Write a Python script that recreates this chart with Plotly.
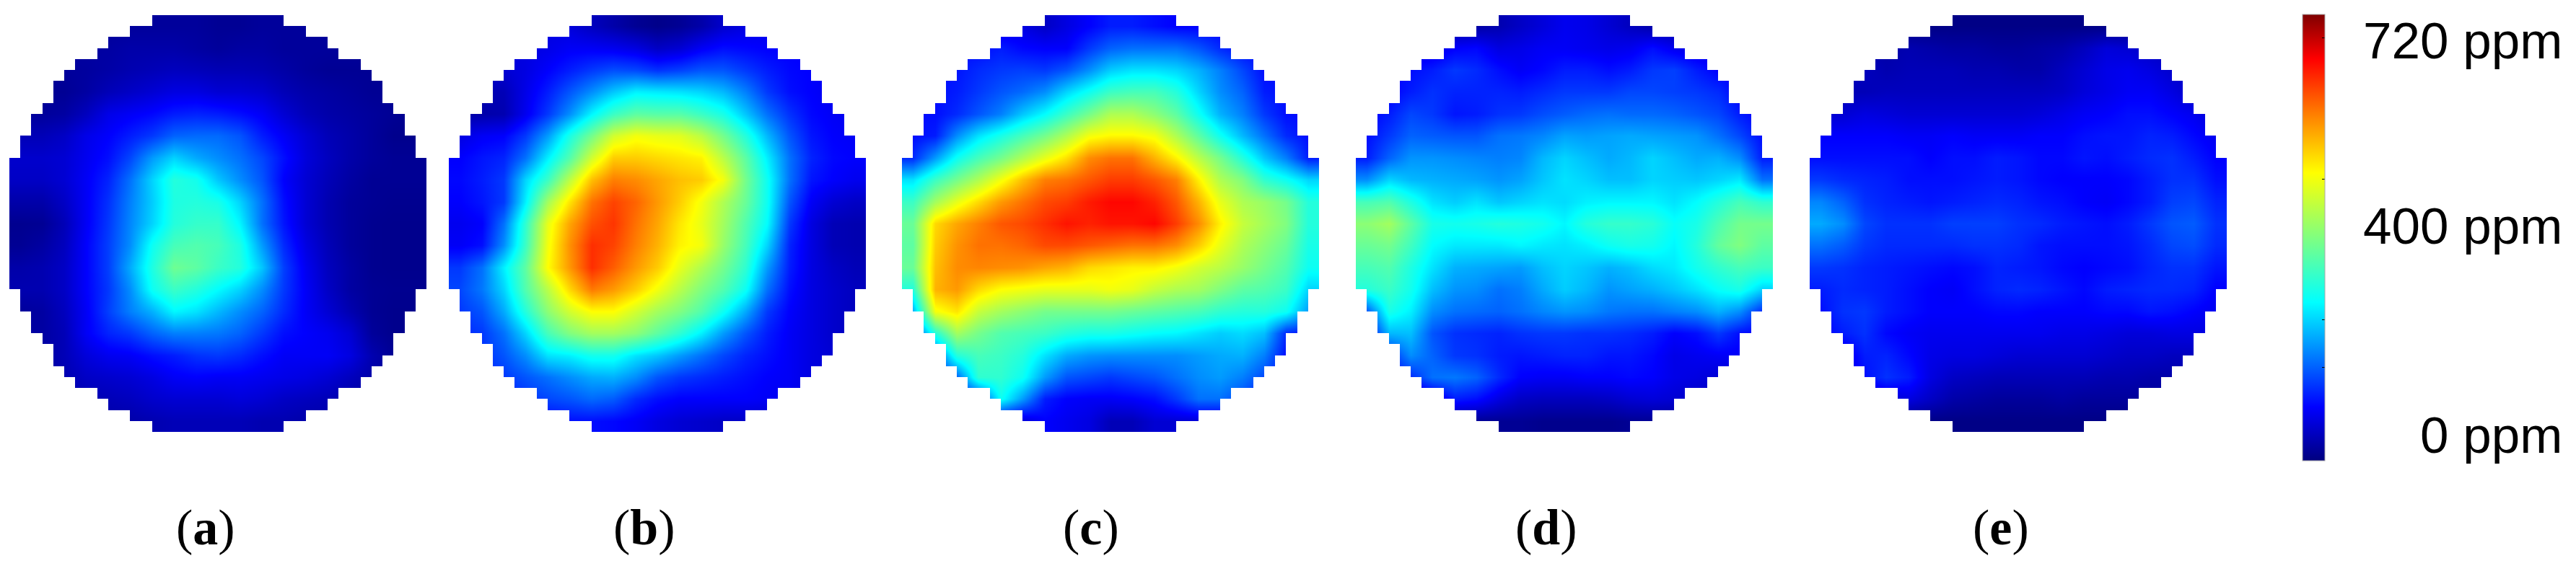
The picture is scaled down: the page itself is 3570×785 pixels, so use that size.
import plotly.graph_objects as go

# Concentration (ppm) at 19 x 19 sampling nodes per panel, top row first
panel_a = [
[20,20,20,20,20,20,20,20,20,15,15,20,20,20,20,20,20,20,20],
[25,25,25,25,25,30,30,30,25,20,25,25,20,20,20,20,20,20,20],
[20,20,20,22,28,35,40,45,42,38,38,35,28,20,15,15,15,15,15],
[15,15,15,25,40,50,60,70,70,60,60,55,40,30,25,20,15,15,15],
[20,20,25,45,75,85,95,110,115,110,100,85,60,40,30,25,20,15,10],
[40,40,50,75,90,110,130,160,165,165,150,110,85,60,40,30,20,10,10],
[55,55,60,80,100,140,200,240,210,190,170,140,100,65,45,30,20,15,15],
[50,50,60,85,115,170,240,300,285,230,190,150,90,60,40,25,15,15,15],
[30,30,50,85,125,180,235,295,300,290,240,170,100,60,35,20,15,12,12],
[12,15,40,85,130,185,240,300,315,315,265,170,105,60,35,20,12,10,10],
[15,25,45,90,135,190,280,330,340,330,295,200,120,70,40,20,12,10,10],
[30,35,50,90,135,210,295,365,350,320,300,230,135,80,45,25,12,10,10],
[35,35,50,90,130,190,280,320,300,270,240,190,130,85,50,25,15,12,12],
[20,25,45,85,135,180,215,265,250,220,190,160,120,85,60,35,15,10,10],
[25,25,40,85,115,130,160,180,180,175,160,130,100,90,80,60,20,10,10],
[25,25,40,65,80,85,100,110,125,130,120,100,85,85,85,70,35,15,15],
[25,25,35,50,55,60,70,85,90,85,85,80,75,70,60,45,30,20,20],
[25,25,30,35,40,45,55,60,60,60,65,60,50,45,40,30,20,20,20],
[30,30,30,30,30,30,35,40,40,40,40,35,35,30,30,25,20,20,20],
]
panel_b = [
[70,70,70,70,70,65,45,30,15,8,15,30,55,70,75,75,70,60,50],
[70,70,70,70,75,85,85,80,70,50,60,85,100,95,90,90,85,80,70],
[60,60,60,70,90,110,130,145,140,125,135,150,150,130,110,95,90,85,80],
[35,35,40,75,110,150,190,230,260,255,250,240,220,180,130,100,90,80,80],
[30,30,35,80,130,190,265,320,350,345,345,320,290,230,170,125,95,85,80],
[70,85,90,130,200,290,370,450,480,470,465,430,370,300,220,150,105,90,85],
[90,105,115,170,260,340,450,530,530,520,510,500,430,350,260,170,115,95,90],
[95,110,130,240,320,430,540,590,580,560,540,530,480,370,280,170,105,90,80],
[90,105,130,260,410,510,600,635,610,570,530,480,420,360,280,150,85,60,50],
[80,90,170,310,470,560,625,645,600,560,510,470,410,340,270,130,70,40,35],
[85,100,190,320,480,575,650,635,590,550,500,480,400,330,240,115,70,40,35],
[130,170,260,350,490,570,650,615,570,530,470,420,370,310,200,110,70,50,40],
[140,175,240,340,430,520,595,570,530,480,430,380,340,280,170,100,70,55,45],
[130,150,210,300,390,450,490,490,450,410,380,340,280,210,130,90,70,55,45],
[120,130,170,240,330,380,410,410,390,350,310,260,200,150,110,85,70,55,45],
[120,125,150,190,250,260,285,285,250,230,200,170,140,115,100,85,70,60,50],
[110,115,130,150,170,190,210,215,190,150,130,120,110,100,90,85,70,60,50],
[90,100,110,125,140,150,165,155,120,100,90,90,90,90,85,80,65,55,45],
[90,90,90,90,95,100,100,95,85,70,60,55,50,50,50,50,45,40,40],
]
panel_c = [
[70,70,70,70,70,70,50,70,90,110,110,100,90,90,90,90,80,70,60],
[100,100,100,100,110,95,90,90,130,160,170,170,170,150,120,100,100,100,100],
[100,100,105,120,130,135,130,150,190,235,250,250,240,215,180,140,100,100,100],
[100,100,110,130,150,165,190,240,280,320,330,330,300,240,190,160,110,100,100],
[100,100,120,150,180,230,270,320,370,420,420,390,350,280,215,180,130,100,100],
[100,110,190,250,290,330,370,420,480,495,495,480,420,350,280,220,170,120,100],
[120,200,280,330,370,420,470,515,580,600,600,550,500,430,370,300,230,180,110],
[250,320,370,420,480,540,590,600,620,640,640,620,590,500,420,380,310,280,240],
[320,410,470,520,570,600,630,640,665,680,680,660,620,550,470,420,400,370,300],
[360,520,560,590,620,630,650,670,660,670,670,680,640,580,500,440,410,380,300],
[350,530,575,600,600,610,630,630,620,610,600,600,580,530,470,420,390,360,290],
[360,540,580,585,580,575,560,550,520,510,500,500,480,450,430,400,370,340,280],
[300,550,570,520,490,480,470,470,470,480,470,440,420,410,380,350,340,320,240],
[210,480,510,440,410,390,370,370,370,370,360,350,340,330,310,300,300,280,200],
[120,300,410,370,340,330,320,300,290,290,280,270,265,250,235,245,225,120,100],
[100,150,300,330,320,300,250,210,195,190,190,190,190,200,210,215,180,100,100],
[100,100,160,310,310,280,200,150,140,130,140,150,170,190,200,180,140,100,100],
[100,100,100,120,280,200,110,90,85,85,90,100,130,170,170,140,100,100,100],
[60,60,60,60,70,60,90,80,70,40,40,60,60,60,60,60,60,60,60],
]
panel_d = [
[20,20,20,20,20,25,35,50,65,80,75,60,45,30,25,20,20,20,20],
[60,60,60,70,90,95,70,75,85,85,80,75,80,100,80,70,60,50,50],
[90,90,100,110,130,120,100,85,95,110,110,100,110,130,135,110,90,90,90],
[90,90,110,125,115,115,115,110,120,130,130,130,140,140,135,130,120,90,90],
[90,110,140,130,105,110,125,130,145,155,165,170,165,165,160,150,140,110,90],
[100,130,160,155,150,150,170,175,185,205,200,205,210,205,200,195,170,140,100],
[110,160,195,195,190,185,180,185,220,240,225,210,220,240,225,210,215,190,110],
[190,240,220,215,210,205,195,205,230,250,240,225,225,240,235,230,240,255,170],
[330,340,295,250,235,250,230,240,250,245,260,265,265,265,250,270,300,330,310],
[390,410,350,290,285,290,300,295,285,265,300,315,315,305,275,290,335,370,370],
[360,370,325,270,255,255,255,265,255,250,260,280,290,285,265,300,355,380,350],
[330,340,295,250,215,210,205,200,225,240,230,215,225,245,255,285,310,330,320],
[300,320,285,225,195,190,170,180,210,235,220,195,205,215,230,250,275,290,240],
[150,290,260,190,170,165,160,170,185,195,190,175,170,170,180,190,215,190,120],
[90,220,225,150,125,120,115,125,130,130,125,125,120,110,90,100,130,100,90],
[90,120,190,160,130,125,110,105,110,115,115,105,105,95,75,80,85,85,85],
[90,90,120,170,175,160,120,90,85,85,90,90,95,90,75,70,60,50,50],
[20,20,30,60,110,100,70,50,45,45,45,50,60,65,60,50,40,30,30],
[10,10,10,10,15,15,15,15,10,10,10,10,15,15,15,15,15,15,15],
]
panel_e = [
[5,5,5,5,5,5,5,5,5,5,5,5,5,5,5,5,5,5,5],
[30,30,30,30,35,30,25,25,20,20,25,30,45,65,60,50,40,30,30],
[45,45,45,35,40,40,40,35,35,30,30,45,60,75,80,70,55,50,50],
[40,40,40,45,45,45,45,45,45,45,45,50,65,75,85,85,70,50,50],
[60,60,70,65,60,60,60,60,60,60,65,75,85,90,100,100,90,80,60],
[90,90,90,90,85,85,90,85,85,85,90,90,100,105,105,115,110,95,80],
[100,100,100,100,100,90,100,100,110,105,95,95,105,100,110,120,125,110,90],
[130,120,115,110,100,100,100,105,110,105,95,90,90,90,95,110,125,125,100],
[185,160,125,115,110,105,110,115,120,115,105,100,90,85,95,110,135,140,115],
[210,190,140,125,125,125,135,135,135,125,120,110,105,100,110,130,150,155,125],
[170,155,130,120,120,120,120,125,125,120,105,100,100,100,105,120,140,145,120],
[130,125,115,110,105,100,95,100,115,110,105,95,90,95,100,115,125,125,105],
[110,120,115,110,100,90,85,100,115,120,115,105,95,110,115,120,120,115,90],
[100,125,130,110,100,90,90,90,95,95,90,90,90,95,95,105,100,90,80],
[90,110,125,95,85,80,80,80,80,80,80,75,75,70,65,65,70,70,70],
[60,70,110,115,95,75,70,70,65,60,60,60,60,55,50,50,45,45,45],
[60,60,100,125,110,70,50,45,40,40,40,40,40,35,35,30,30,30,30],
[40,40,40,60,70,50,30,25,20,20,20,25,20,20,20,20,20,20,20],
[5,5,5,5,5,5,5,5,5,5,5,5,5,5,5,5,5,5,5],
]
panels = [panel_a, panel_b, panel_c, panel_d, panel_e]
panel_labels = ["a", "b", "c", "d", "e"]

# First and last measured cell of each of the 38 rows of the circular sensor area
row_first = [13,11,9,8,6,5,4,4,3,2,2,1,1,0,0,0,0,0,0,0,0,0,0,0,0,1,1,2,2,3,4,4,5,6,8,9,11,13]
row_last  = [24,26,28,29,31,32,33,33,34,35,35,36,36,37,37,37,37,37,37,37,37,37,37,37,37,36,36,35,35,34,34,33,32,31,29,28,26,24]

scale_labels = ["720 ppm", "400 ppm", "0 ppm"]
scale_label_values = [715, 400, 44]
scale_ticks = [720, 480, 240, 159]
scale_max = 760

W, H = 3570, 785
panel_left = [13, 622, 1250, 1879, 2508]
panel_size = 578
panel_top = 21
label_x = [285, 893, 1512, 2143, 2773]
label_y = 731

jet = [[0, "#00007f"], [0.12, "#0000ff"], [0.355, "#00ffff"], [0.5, "#80ff80"],
       [0.645, "#ffff00"], [0.775, "#ff8000"], [0.90, "#ff0000"], [1, "#7f0000"]]

node_pos = [0.5 + 2 * i for i in range(19)]
cell_pos = list(range(38))
outside = [[None if row_first[r] <= c <= row_last[r] else 1 for c in cell_pos] for r in range(38)]

fig = go.Figure()
layout = {}
for k, z in enumerate(panels):
    s = "" if k == 0 else str(k + 1)
    fig.add_trace(go.Heatmap(z=z, x=node_pos, y=node_pos, zsmooth="best", coloraxis="coloraxis",
                             xaxis="x" + s, yaxis="y" + s, hoverinfo="skip"))
    fig.add_trace(go.Heatmap(z=outside, x=cell_pos, y=cell_pos, zsmooth=False, showscale=False,
                             colorscale=[[0, "white"], [1, "white"]], zmin=0, zmax=1,
                             xaxis="x" + s, yaxis="y" + s, hoverinfo="skip"))
    x0 = panel_left[k] / W
    x1 = (panel_left[k] + panel_size) / W
    y1 = 1 - panel_top / H
    y0 = 1 - (panel_top + panel_size) / H
    common = dict(visible=False, showgrid=False, zeroline=False)
    layout["xaxis" + s] = dict(domain=[x0, x1], range=[-0.5, 37.5], **common)
    layout["yaxis" + s] = dict(domain=[y0, y1], range=[37.5, -0.5], **common)

annotations = []
for name, px in zip(panel_labels, label_x):
    annotations.append(dict(text=f"(<b>{name}</b>)", x=px / W, y=1 - label_y / H, xref="paper", yref="paper",
                            showarrow=False, xanchor="center", yanchor="middle",
                            font=dict(family="Liberation Serif", size=70, color="black")))
bar_top, bar_h = 20, 619
for text, v in zip(scale_labels, scale_label_values):
    py = bar_top + bar_h * (1 - v / scale_max)
    annotations.append(dict(text=text, x=3553 / W, y=1 - py / H, xref="paper", yref="paper",
                            showarrow=False, xanchor="right", yanchor="middle",
                            font=dict(family="Liberation Sans", size=71, color="black")))

fig.update_layout(
    width=W, height=H, margin=dict(l=0, r=0, t=0, b=0), paper_bgcolor="white", plot_bgcolor="white",
    showlegend=False, annotations=annotations,
    coloraxis=dict(colorscale=jet, cmin=0, cmax=scale_max,
                   colorbar=dict(x=3191 / W, xanchor="left", y=1 - bar_top / H, yanchor="top",
                                 lenmode="pixels", len=bar_h, thicknessmode="pixels", thickness=31,
                                 xpad=0, ypad=0, outlinecolor="#aaaaaa", outlinewidth=1,
                                 tickmode="array", tickvals=scale_ticks, ticks="inside", ticklen=4,
                                 tickcolor="black", showticklabels=False)),
    **layout,
)
fig.write_html("out.html", config={"displayModeBar": False}, post_script="document.body.style.margin='0';")
